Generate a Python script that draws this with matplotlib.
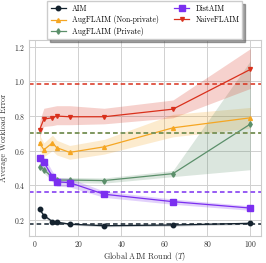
import matplotlib
matplotlib.use("Agg")
import matplotlib.pyplot as plt
import numpy as np

plt.rcParams['font.family'] = 'serif'
plt.rcParams['font.serif'] = ['cmr10']
plt.rcParams['mathtext.fontset'] = 'cm'
plt.rcParams['axes.formatter.use_mathtext'] = True

rounds = [2, 4, 8, 10, 16, 32, 64, 100]

aim = [0.262, 0.225, 0.19, 0.187, 0.175, 0.166, 0.170, 0.180]
aim_lo = [0.252, 0.217, 0.183, 0.180, 0.170, 0.160, 0.164, 0.174]
aim_hi = [0.272, 0.233, 0.197, 0.194, 0.180, 0.172, 0.176, 0.186]

aug_np = [0.645, 0.605, 0.645, 0.617, 0.59, 0.622, 0.732, 0.79]
aug_np_lo = [0.60, 0.565, 0.60, 0.575, 0.55, 0.58, 0.68, 0.73]
aug_np_hi = [0.69, 0.645, 0.69, 0.66, 0.63, 0.665, 0.81, 0.85]

aug_p = [0.507, 0.49, 0.445, 0.43, 0.43, 0.427, 0.467, 0.754]
aug_p_lo = [0.49, 0.47, 0.425, 0.415, 0.415, 0.412, 0.45, 0.49]
aug_p_hi = [0.525, 0.51, 0.465, 0.445, 0.445, 0.442, 0.485, 1.12]

dist = [0.556, 0.533, 0.45, 0.42, 0.415, 0.348, 0.305, 0.268]
dist_lo = [0.525, 0.50, 0.42, 0.395, 0.39, 0.33, 0.29, 0.255]
dist_hi = [0.585, 0.565, 0.48, 0.445, 0.44, 0.366, 0.32, 0.281]

naive = [0.72, 0.783, 0.79, 0.80, 0.796, 0.796, 0.84, 1.07]
naive_lo = [0.68, 0.74, 0.745, 0.75, 0.75, 0.755, 0.79, 0.96]
naive_hi = [0.77, 0.845, 0.855, 0.86, 0.86, 0.845, 0.893, 1.19]

baselines = {"AIM": 0.176, "AugFLAIM (Non-private)": 0.70, "AugFLAIM (Private)": 0.70,
             "DistAIM": 0.363, "NaiveFLAIM": 0.987}

series = [
    ("AIM", aim, aim_lo, aim_hi, "#14222e", "o", 3.2),
    ("AugFLAIM (Non-private)", aug_np, aug_np_lo, aug_np_hi, "#f5a623", "^", 2.8),
    ("AugFLAIM (Private)", aug_p, aug_p_lo, aug_p_hi, "#5b8f6a", "d", 2.8),
    ("DistAIM", dist, dist_lo, dist_hi, "#7b2ff0", "s", 3.8),
    ("NaiveFLAIM", naive, naive_lo, naive_hi, "#d9301c", "v", 2.8),
]

fig = plt.figure(figsize=(2.66, 2.63), dpi=100)
ax = fig.add_axes([0.109, 0.103, 0.872, 0.745])

for name, y, lo, hi, c, m, ms in series:
    ax.fill_between(rounds, lo, hi, color=c, alpha=0.22, linewidth=0)
    ax.plot(rounds, y, color=c, marker=m, markersize=ms, linewidth=0.9, label=name)

for name, y, lo, hi, c, m, ms in series:
    ax.axhline(baselines[name], color=c, linestyle=(0, (3, 2)), linewidth=1.1)

ax.grid(True, color="#d0d0d0", linewidth=0.7)
ax.set_axisbelow(True)
for s in ax.spines.values():
    s.set_color("#cccccc")
    s.set_linewidth(0.8)
ax.tick_params(length=0, labelsize=5.5, colors="#333333", pad=2.5)
ax.set_xticks([0, 20, 40, 60, 80, 100])
ax.set_yticks([0.2, 0.4, 0.6, 0.8, 1.0, 1.2])
ax.set_xlabel("Global AIM Round ($T$)", fontsize=5.8, color="#333333", labelpad=0.5)
ax.set_ylabel("Average Workload Error", fontsize=5.8, color="#333333", labelpad=4)
ax.set_xlim(-2.9, 104.9)
ax.set_ylim(0.107, 1.24)

leg = ax.legend(loc="lower center", bbox_to_anchor=(0.5, 1.0), ncol=2, fontsize=5.5,
                frameon=True, shadow=True, fancybox=False, borderaxespad=0.1,
                handlelength=2.0, columnspacing=2.0, labelspacing=0.35)
leg.get_frame().set_edgecolor("#cccccc")

fig.savefig("out.png", dpi=100)
